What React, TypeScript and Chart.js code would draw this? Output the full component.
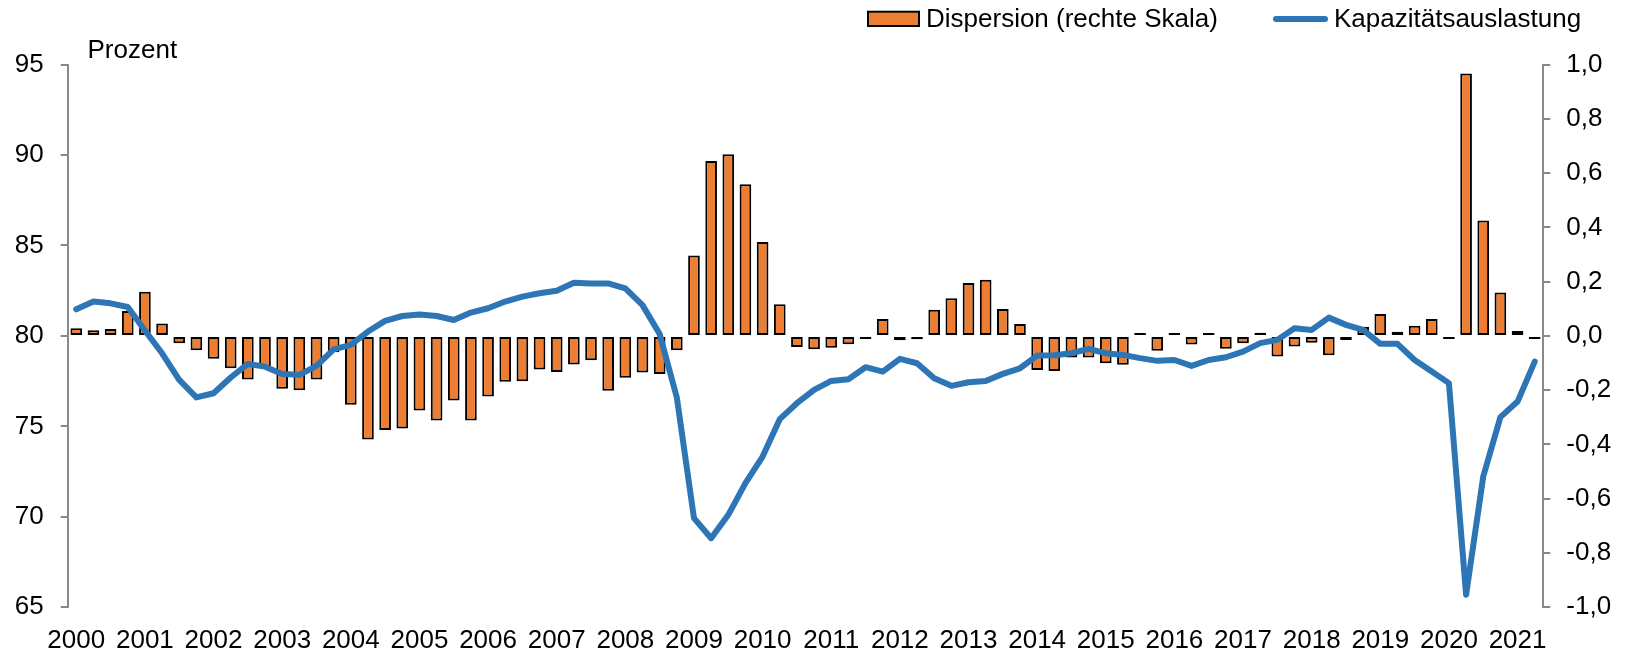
import React, { useEffect, useRef } from 'react';
import { Chart, registerables } from 'chart.js';

Chart.register(...registerables);

const years = ['2000','2001','2002','2003','2004','2005','2006','2007','2008','2009','2010','2011','2012','2013','2014','2015','2016','2017','2018','2019','2020','2021'];
const quarters = ['Q1','Q2','Q3','Q4'];
const categories: string[] = years.flatMap((y) => quarters.map((q) => y + ' ' + q)).slice(0, 86);

const seriesNames = ['Dispersion (rechte Skala)', 'Kapazitätsauslastung'];
const axisTitle = 'Prozent';

// Dispersion (right axis)
const dispersion = [
  0.028, 0.021, 0.025, 0.092, 0.163, 0.046, -0.027, -0.053, -0.084, -0.119,
  -0.161, -0.12, -0.195, -0.2, -0.161, -0.06, -0.254, -0.382, -0.347, -0.341,
  -0.275, -0.312, -0.238, -0.312, -0.223, -0.169, -0.167, -0.124, -0.133, -0.105,
  -0.09, -0.202, -0.154, -0.135, -0.14, -0.053, 0.296, 0.644, 0.669, 0.559,
  0.346, 0.117, -0.041, -0.049, -0.044, -0.031, -0.008, 0.062, -0.016, -0.012,
  0.096, 0.139, 0.195, 0.207, 0.099, 0.044, -0.126, -0.129, -0.08, -0.08,
  -0.101, -0.106, 0.003, -0.055, 0.003, -0.032, 0.004, -0.047, -0.027, 0.012,
  -0.076, -0.039, -0.025, -0.071, -0.015, 0.034, 0.081, 0.015, 0.037, 0.062,
  -0.003, 0.967, 0.425, 0.16, 0.018, -0.01,
];

// Kapazitätsauslastung (left axis, Prozent)
const capacity = [
  81.47, 81.9, 81.8, 81.6, 80.3, 79.04, 77.57, 76.6, 76.83, 77.7,
  78.45, 78.3, 77.9, 77.85, 78.34, 79.26, 79.5, 80.24, 80.83, 81.1,
  81.18, 81.1, 80.88, 81.29, 81.53, 81.9, 82.17, 82.36, 82.5, 82.94,
  82.9, 82.9, 82.63, 81.7, 80.1, 76.6, 69.93, 68.82, 70.11, 71.86,
  73.33, 75.4, 76.28, 77.02, 77.51, 77.6, 78.27, 78.03, 78.73, 78.49,
  77.66, 77.24, 77.44, 77.51, 77.9, 78.21, 78.91, 78.93, 79.04, 79.28,
  79.04, 78.95, 78.77, 78.62, 78.67, 78.34, 78.67, 78.82, 79.13, 79.6,
  79.78, 80.42, 80.33, 81.01, 80.61, 80.33, 79.56, 79.56, 78.67, 78.03,
  77.39, 65.69, 72.23, 75.51, 76.37, 78.58,
];

const leftRange = { min: 65, max: 95, step: 5 };
const rightRange = { min: -1, max: 1, step: 0.2 };

const FONT = '"Liberation Sans", Arial, sans-serif';
const BAR_COLOR = '#ED7D31';
const LINE_COLOR = '#2E75B6';
const AXIS_COLOR = '#898989';

const overlayPlugin = {
  id: 'overlay',
  afterDraw(chart: any) {
    const ctx = chart.ctx as CanvasRenderingContext2D;
    ctx.save();
    ctx.font = '26px ' + FONT;
    ctx.fillStyle = '#000';
    ctx.textAlign = 'left';
    ctx.textBaseline = 'alphabetic';
    ctx.fillText(axisTitle, 87.5, 58.3);

    // legend: bar item
    ctx.fillStyle = BAR_COLOR;
    ctx.fillRect(868, 11.7, 51, 14.3);
    ctx.strokeStyle = '#000';
    ctx.lineWidth = 2;
    ctx.strokeRect(868, 11.7, 51, 14.3);
    ctx.fillStyle = '#000';
    ctx.fillText(seriesNames[0], 926, 26.5);

    // legend: line item
    ctx.strokeStyle = LINE_COLOR;
    ctx.lineWidth = 6;
    ctx.lineCap = 'round';
    ctx.beginPath();
    ctx.moveTo(1276, 19);
    ctx.lineTo(1325, 19);
    ctx.stroke();
    ctx.fillStyle = '#000';
    ctx.fillText(seriesNames[1], 1334, 26.5);
    ctx.restore();
  },
};

export default function App() {
  const canvasRef = useRef<HTMLCanvasElement | null>(null);

  useEffect(() => {
    const canvas = canvasRef.current;
    if (!canvas) return;
    Chart.defaults.font.family = FONT;
    const chart = new Chart(canvas, {
      type: 'bar',
      data: {
        labels: categories,
        datasets: [
          {
            type: 'line',
            label: seriesNames[1],
            data: capacity,
            yAxisID: 'y',
            borderColor: LINE_COLOR,
            backgroundColor: LINE_COLOR,
            borderWidth: 6,
            pointRadius: 0,
            tension: 0,
            borderJoinStyle: 'round',
            borderCapStyle: 'round',
            order: 0,
          } as any,
          {
            type: 'bar',
            label: seriesNames[0],
            data: dispersion,
            yAxisID: 'y1',
            backgroundColor: BAR_COLOR,
            borderColor: '#000',
            borderWidth: 2,
            borderSkipped: false,
            minBarLength: 3,
            barPercentage: 0.68,
            categoryPercentage: 1,
            order: 1,
          } as any,
        ],
      },
      options: {
        animation: false,
        responsive: false,
        devicePixelRatio: 1,
        layout: { padding: { top: 64.5, left: 0, right: 0, bottom: 0 } },
        plugins: {
          legend: { display: false },
          tooltip: { enabled: false },
        },
        scales: {
          x: {
            type: 'category',
            offset: true,
            grid: { display: false, drawTicks: false },
            border: { display: false },
            ticks: {
              autoSkip: false,
              maxRotation: 0,
              minRotation: 0,
              padding: 18,
              color: '#000',
              font: { size: 26, family: FONT },
              callback: (_v: any, i: number) => (i % 4 === 0 ? years[i / 4] : ''),
            },
            afterFit: (s: any) => {
              s.height = 44.7;
            },
          },
          y: {
            position: 'left',
            min: leftRange.min,
            max: leftRange.max,
            ticks: {
              stepSize: leftRange.step,
              color: '#000',
              padding: 17,
              font: { size: 26, family: FONT },
            },
            grid: { drawOnChartArea: false, drawTicks: true, tickLength: 7, color: AXIS_COLOR, lineWidth: 2 },
            border: { display: true, color: AXIS_COLOR, width: 2 },
            afterFit: (s: any) => {
              s.width = 67.7;
            },
          },
          y1: {
            position: 'right',
            min: rightRange.min,
            max: rightRange.max,
            ticks: {
              stepSize: rightRange.step,
              color: '#000',
              padding: 16,
              font: { size: 26, family: FONT },
              callback: (v: any) => {
                const n = Math.abs(Number(v)) < 1e-9 ? 0 : Number(v);
                return n.toFixed(1).replace('.', ',');
              },
            },
            grid: { drawOnChartArea: false, drawTicks: true, tickLength: 7, color: AXIS_COLOR, lineWidth: 2 },
            border: { display: true, color: AXIS_COLOR, width: 2 },
            afterFit: (s: any) => {
              s.width = 86.7;
            },
          },
        },
      } as any,
      plugins: [overlayPlugin],
    });
    return () => chart.destroy();
  }, []);

  return (
    <div style={{ position: 'absolute', left: 0, top: 0, width: 1630, height: 652, background: '#fff' }}>
      <canvas ref={canvasRef} width={1630} height={652} style={{ display: 'block', width: 1630, height: 652 }} />
    </div>
  );
}
